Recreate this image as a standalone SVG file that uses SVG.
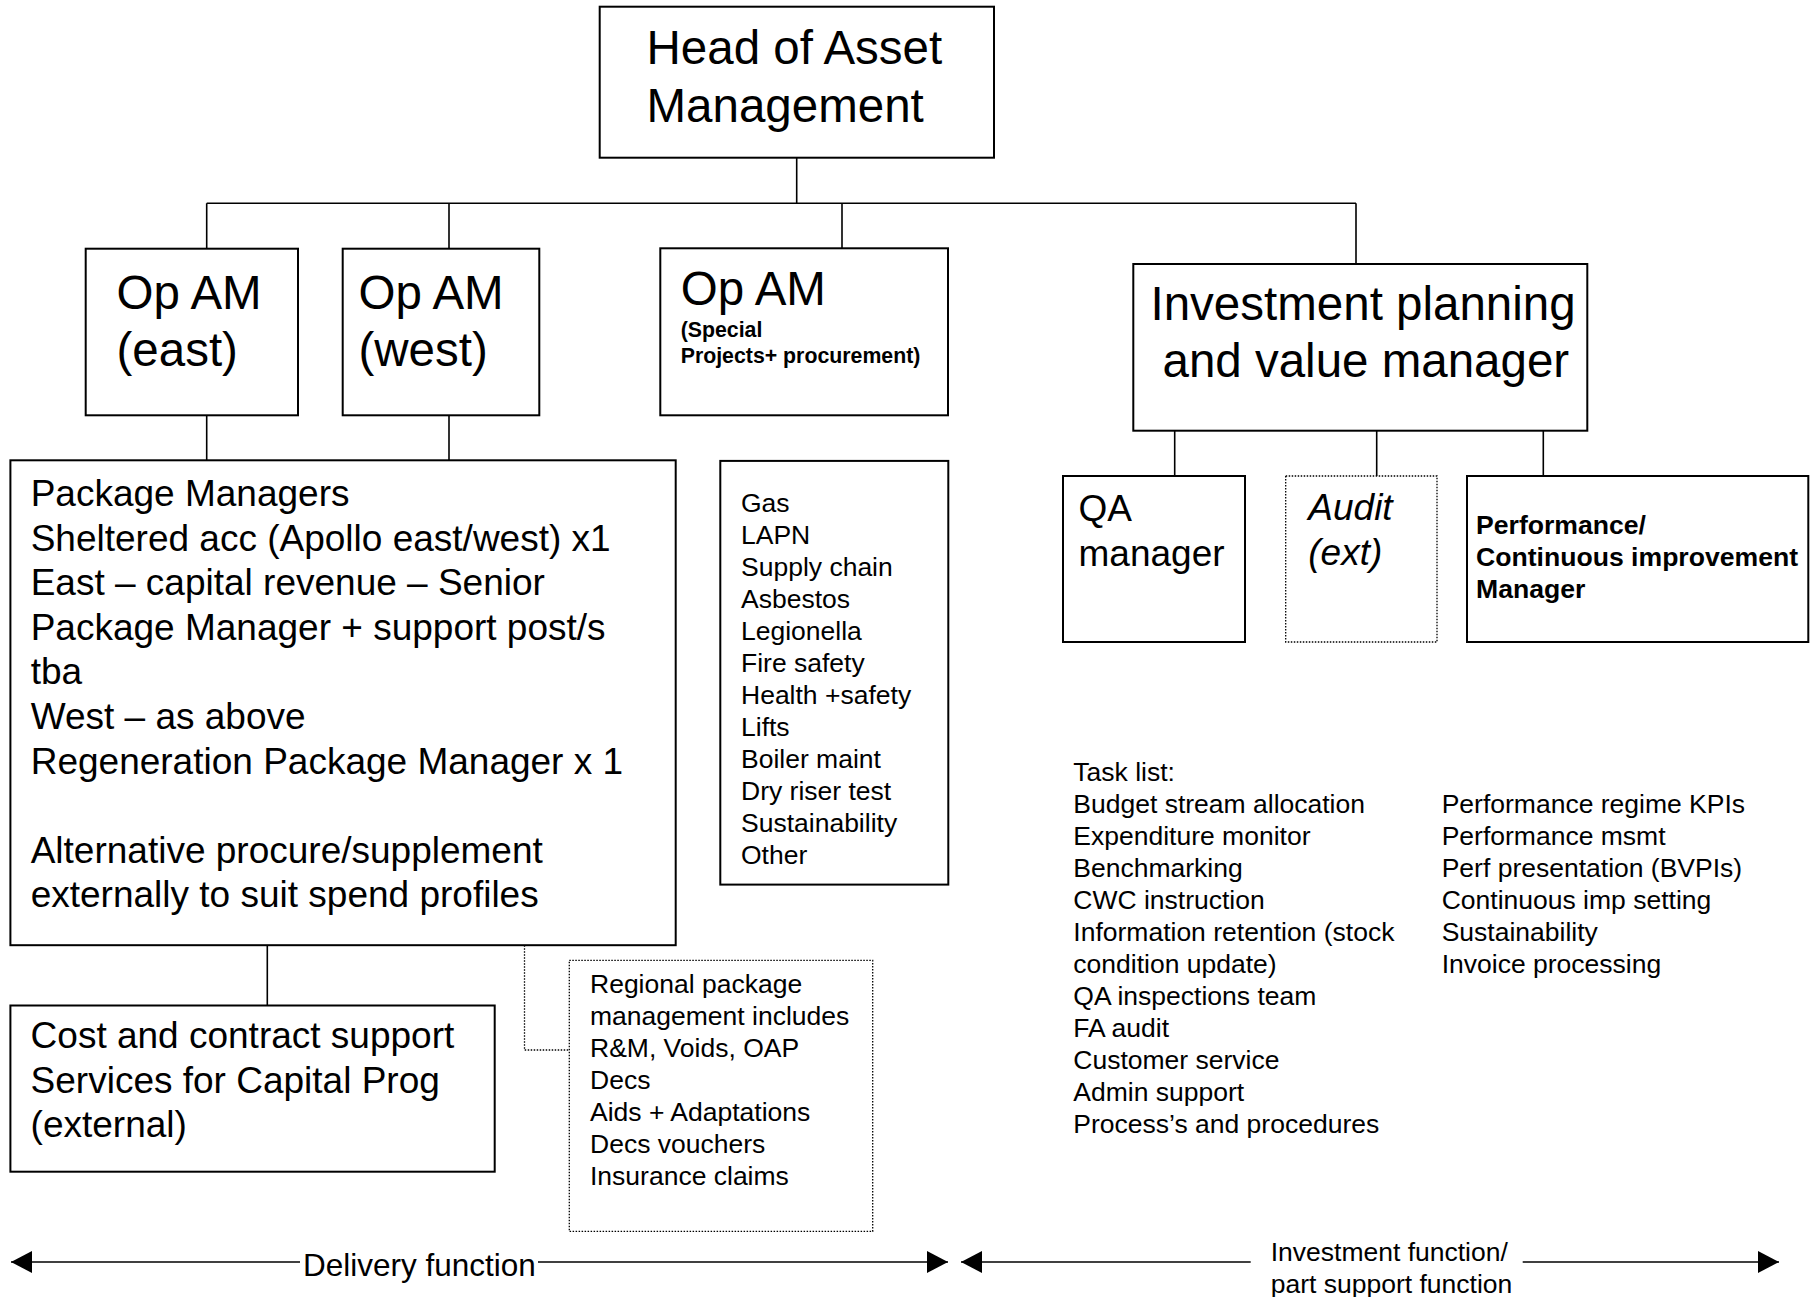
<svg xmlns="http://www.w3.org/2000/svg" width="1810" height="1297" viewBox="0 0 1810 1297">
<style>
  .box{fill:#fff;stroke:#000;stroke-width:2}
  .dot{fill:#fff;stroke:#000;stroke-width:1.3;stroke-dasharray:1.5 1.5}
  .con{fill:none;stroke:#000;stroke-width:1.6}
  .dcon{fill:none;stroke:#000;stroke-width:1.3;stroke-dasharray:1.5 1.5}
  text{font-family:"Liberation Sans",Arial,sans-serif;fill:#000}
  .big{font-size:47.5px}
  .mid{font-size:37px}
  .sm{font-size:26.5px}
  .dl{font-size:31.5px}
  .bs{font-size:21.3px;font-weight:bold}
  .bp{font-size:26.6px;font-weight:bold}
  .it{font-style:italic}
</style>
<defs>
  <marker id="ah" markerWidth="22" markerHeight="22" refX="21" refY="11" orient="auto-start-reverse" markerUnits="userSpaceOnUse">
    <path d="M0,0 L21,11 L0,22 Z" fill="#000"/>
  </marker>
</defs>
<rect width="1810" height="1297" fill="#fff"/>

<g id="connectors">
  <path class="con" d="M796.7,157.7 V203.3 M206.7,203.3 H1356 M206.7,203.3 V248.7 M449,203.3 V248.7 M842,203.3 V248.3 M1356,203.3 V264"/>
  <path class="con" d="M206.7,415.3 V460.3 M449,415.3 V460.3 M267.3,945.2 V1005.5"/>
  <path class="con" d="M1174.7,430.7 V476 M1376.7,430.7 V476 M1543.3,430.7 V476"/>
  <path class="dcon" d="M524.5,945.2 V1050 H569.3"/>
</g>

<g id="head">
  <rect class="box" x="599.7" y="6.7" width="394.3" height="151"/>
  <text class="big" x="646.5" y="63.5">Head of Asset</text>
  <text class="big" x="646.5" y="121.5">Management</text>
</g>

<g id="opam-east">
  <rect class="box" x="85.7" y="248.7" width="212.3" height="166.6"/>
  <text class="big" x="116.5" y="309">Op AM</text>
  <text class="big" x="116.5" y="366">(east)</text>
</g>

<g id="opam-west">
  <rect class="box" x="342.7" y="248.7" width="196.6" height="166.6"/>
  <text class="big" x="358.5" y="309">Op AM</text>
  <text class="big" x="358.5" y="366">(west)</text>
</g>

<g id="opam-special">
  <rect class="box" x="660.3" y="248.3" width="287.7" height="167"/>
  <text class="big" x="680.7" y="305">Op AM</text>
  <text class="bs" x="680.7" y="337.3">(Special</text>
  <text class="bs" x="680.7" y="363.3">Projects+ procurement)</text>
</g>

<g id="investment">
  <rect class="box" x="1133.3" y="264" width="454" height="166.7"/>
  <text class="big" x="1150.5" y="320">Investment planning</text>
  <text class="big" x="1162.5" y="376.7">and value manager</text>
</g>

<g id="qa">
  <rect class="box" x="1063" y="476" width="182" height="166"/>
  <text class="mid" x="1078.5" y="521">QA</text>
  <text class="mid" x="1078.5" y="566">manager</text>
</g>

<g id="audit">
  <rect class="dot" x="1285.7" y="476" width="151.3" height="166"/>
  <text class="mid it" x="1308.3" y="520">Audit</text>
  <text class="mid it" x="1308.3" y="565">(ext)</text>
</g>

<g id="performance">
  <rect class="box" x="1467" y="476" width="341.3" height="166"/>
  <text class="bp" x="1476" y="534">Performance/</text>
  <text class="bp" x="1476" y="566">Continuous improvement</text>
  <text class="bp" x="1476" y="598">Manager</text>
</g>

<g id="package-managers">
  <rect class="box" x="10.4" y="460.3" width="665.3" height="484.9"/>
  <text class="mid" x="30.7" y="506">Package Managers</text>
  <text class="mid" x="30.7" y="550.6">Sheltered acc (Apollo east/west) x1</text>
  <text class="mid" x="30.7" y="595.2">East – capital revenue – Senior</text>
  <text class="mid" x="30.7" y="639.8">Package Manager + support post/s</text>
  <text class="mid" x="30.7" y="684.4">tba</text>
  <text class="mid" x="30.7" y="729">West – as above</text>
  <text class="mid" x="30.7" y="773.6">Regeneration Package Manager x 1</text>
  <text class="mid" x="30.7" y="862.8">Alternative procure/supplement</text>
  <text class="mid" x="30.7" y="907.4">externally to suit spend profiles</text>
</g>

<g id="special-list">
  <rect class="box" x="720.3" y="460.9" width="228" height="423.7"/>
  <text class="sm" x="741" y="512">Gas</text>
  <text class="sm" x="741" y="544">LAPN</text>
  <text class="sm" x="741" y="576">Supply chain</text>
  <text class="sm" x="741" y="608">Asbestos</text>
  <text class="sm" x="741" y="640">Legionella</text>
  <text class="sm" x="741" y="672">Fire safety</text>
  <text class="sm" x="741" y="704">Health +safety</text>
  <text class="sm" x="741" y="736">Lifts</text>
  <text class="sm" x="741" y="768">Boiler maint</text>
  <text class="sm" x="741" y="800">Dry riser test</text>
  <text class="sm" x="741" y="832">Sustainability</text>
  <text class="sm" x="741" y="864">Other</text>
</g>

<g id="cost-contract">
  <rect class="box" x="10.4" y="1005.5" width="484.3" height="166.2"/>
  <text class="mid" x="30.6" y="1048">Cost and contract support</text>
  <text class="mid" x="30.6" y="1092.5">Services for Capital Prog</text>
  <text class="mid" x="30.6" y="1137">(external)</text>
</g>

<g id="regional">
  <rect class="dot" x="569.3" y="960.4" width="303.4" height="271"/>
  <text class="sm" x="590" y="993">Regional package</text>
  <text class="sm" x="590" y="1025">management includes</text>
  <text class="sm" x="590" y="1057">R&amp;M, Voids, OAP</text>
  <text class="sm" x="590" y="1089">Decs</text>
  <text class="sm" x="590" y="1121">Aids + Adaptations</text>
  <text class="sm" x="590" y="1153">Decs vouchers</text>
  <text class="sm" x="590" y="1185">Insurance claims</text>
</g>

<g id="task-list">
  <text class="sm" x="1073.3" y="781">Task list:</text>
  <text class="sm" x="1073.3" y="813">Budget stream allocation</text>
  <text class="sm" x="1073.3" y="845">Expenditure monitor</text>
  <text class="sm" x="1073.3" y="877">Benchmarking</text>
  <text class="sm" x="1073.3" y="909">CWC instruction</text>
  <text class="sm" x="1073.3" y="941">Information retention (stock</text>
  <text class="sm" x="1073.3" y="973">condition update)</text>
  <text class="sm" x="1073.3" y="1005">QA inspections team</text>
  <text class="sm" x="1073.3" y="1037">FA audit</text>
  <text class="sm" x="1073.3" y="1069">Customer service</text>
  <text class="sm" x="1073.3" y="1101">Admin support</text>
  <text class="sm" x="1073.3" y="1133">Process’s and procedures</text>
  <text class="sm" x="1441.7" y="813">Performance regime KPIs</text>
  <text class="sm" x="1441.7" y="845">Performance msmt</text>
  <text class="sm" x="1441.7" y="877">Perf presentation (BVPIs)</text>
  <text class="sm" x="1441.7" y="909">Continuous imp setting</text>
  <text class="sm" x="1441.7" y="941">Sustainability</text>
  <text class="sm" x="1441.7" y="973">Invoice processing</text>
</g>

<g id="delivery-function">
  <path class="con" d="M300,1262 H11" stroke-width="2" marker-end="url(#ah)"/>
  <path class="con" d="M538,1262 H948" stroke-width="2" marker-end="url(#ah)"/>
  <text class="dl" x="303" y="1276">Delivery function</text>
</g>

<g id="investment-function">
  <path class="con" d="M1250.7,1262 H961" stroke-width="2" marker-end="url(#ah)"/>
  <path class="con" d="M1522.7,1262 H1779" stroke-width="2" marker-end="url(#ah)"/>
  <text class="sm" x="1270.7" y="1261">Investment function/</text>
  <text class="sm" x="1270.7" y="1293">part support function</text>
</g>
</svg>
